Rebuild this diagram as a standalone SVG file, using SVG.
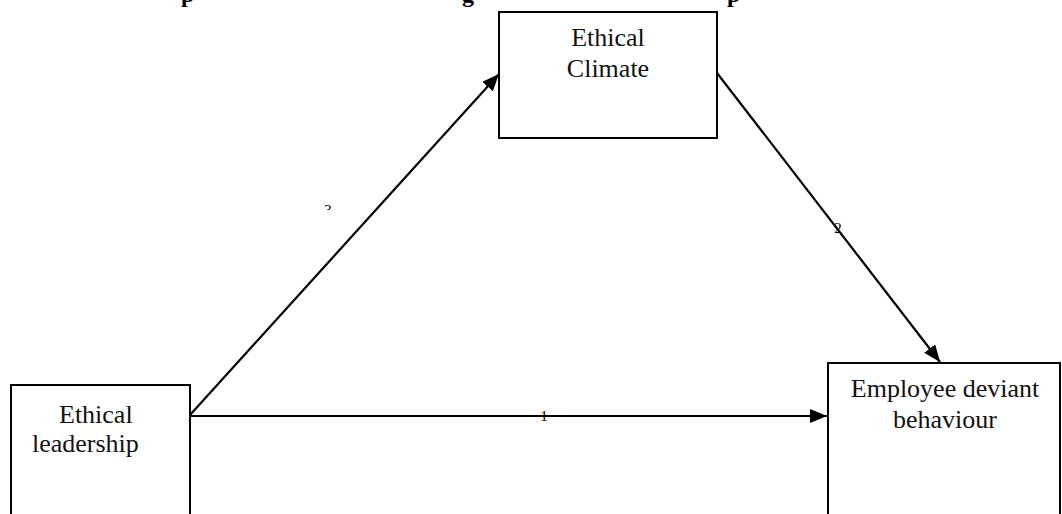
<svg xmlns="http://www.w3.org/2000/svg" width="1062" height="514" viewBox="0 0 1062 514">
<style>
.box{fill:#fff;stroke:#000;stroke-width:2}
.lbl{font-family:"Liberation Serif","Times New Roman",serif;font-size:26px;fill:#111}
.num{font-family:"Liberation Serif","Times New Roman",serif;font-size:15px;fill:#000}
.ttl{font-family:"Liberation Serif","Times New Roman",serif;font-size:24px;font-weight:bold;fill:#000}
.edge{stroke:#000;stroke-width:2.2;fill:none}
</style>
<defs>
<marker id="ah" markerUnits="userSpaceOnUse" markerWidth="18" markerHeight="14" refX="17" refY="7" orient="auto">
<path d="M0,0 L17,7 L0,14 Z" fill="#000"/>
</marker>
<clipPath id="clip3"><rect x="300" y="190" width="60" height="20"/></clipPath>
</defs>
<rect width="1062" height="514" fill="#fff"/>
<g id="title">
<text class="ttl" x="181" y="2">p</text>
<text class="ttl" x="462" y="2">g</text>
<text class="ttl" x="727" y="2">p</text>
</g>
<g id="connectors">
<line class="edge" x1="190" y1="416" x2="827" y2="416" marker-end="url(#ah)"/>
<line class="edge" x1="190" y1="415" x2="499" y2="74" marker-end="url(#ah)"/>
<line class="edge" x1="717" y1="73" x2="940" y2="362" marker-end="url(#ah)"/>
<text class="num" x="544" y="421" text-anchor="middle">1</text>
<text class="num" x="838" y="233" text-anchor="middle">2</text>
<text class="num" x="328" y="215" text-anchor="middle" clip-path="url(#clip3)">3</text>
</g>
<g id="ethical-climate">
<rect class="box" x="499" y="12" width="218" height="126"/>
<text class="lbl" x="608" y="46" text-anchor="middle">Ethical</text>
<text class="lbl" x="608" y="77" text-anchor="middle">Climate</text>
</g>
<g id="ethical-leadership">
<rect class="box" x="11" y="385" width="179" height="140"/>
<text class="lbl" x="59" y="423">Ethical</text>
<text class="lbl" x="32" y="452">leadership</text>
</g>
<g id="employee-deviant-behaviour">
<rect class="box" x="828" y="363" width="232" height="160"/>
<text class="lbl" x="945" y="397" text-anchor="middle">Employee deviant</text>
<text class="lbl" x="945" y="428" text-anchor="middle">behaviour</text>
</g>
</svg>
